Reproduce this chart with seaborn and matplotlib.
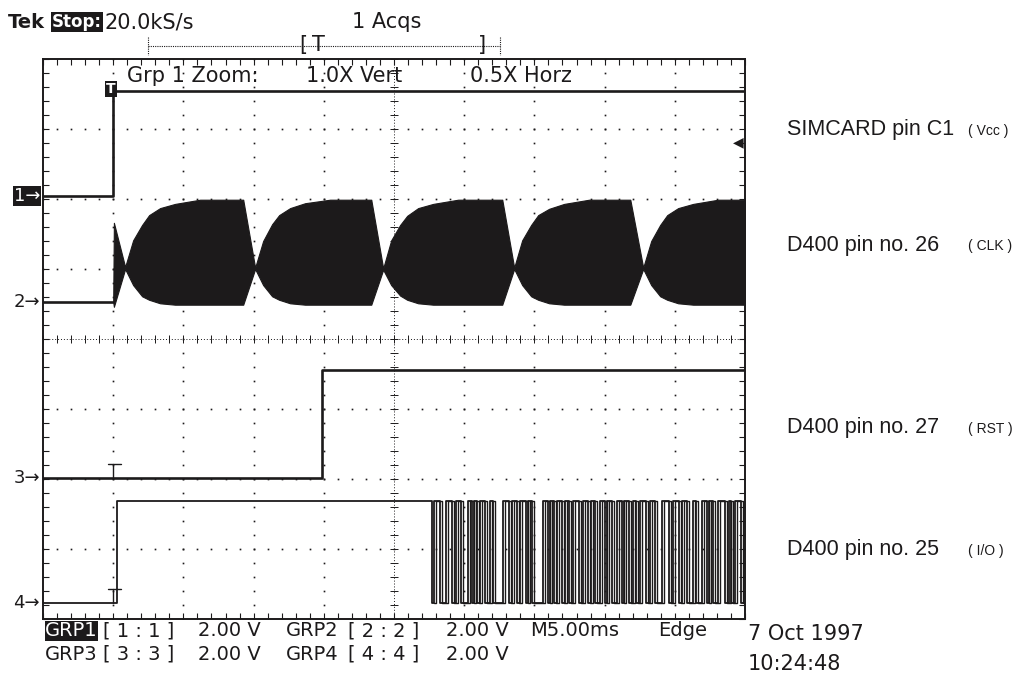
import numpy as np
import pandas as pd
import matplotlib
matplotlib.use("Agg")
import matplotlib.pyplot as plt
import seaborn as sns
from matplotlib.lines import Line2D

# ---------------- data ----------------
# time axis: ms relative to trigger, 5 ms/div ; voltages in V, 2 V/div
T_START, T_END = -5.0, 45.0
VOLTS_PER_DIV = 2.0
# ground marker position of each channel, in divisions from the bottom
GND_DIV = {"1": 6.04, "2": 4.53, "3": 2.01, "4": 0.23}

VCC_T = [-5.0, 0.0, 45.0]
VCC_V = [0.0, 3.0, 3.0]

RST_T = [-5.0, 14.9, 45.0]
RST_V = [0.0, 3.1, 3.1]

CLK_T = [0.00, 0.05, 0.85,
         1.42, 2.06, 2.56, 3.34, 4.41, 6.19, 9.26, 10.11,
         10.68, 11.32, 11.82, 12.60, 13.67, 15.45, 18.38, 19.23,
         19.80, 20.44, 20.94, 21.72, 22.79, 24.57, 27.71, 28.56,
         29.13, 29.77, 30.27, 31.05, 32.12, 33.90, 36.83, 37.75,
         38.32, 38.96, 39.46, 40.24, 41.31, 43.09, 45.00]
CLK_UPPER = [0.00, 2.26, 1.00,
             1.76, 2.20, 2.48, 2.68, 2.80, 2.92, 2.92, 0.98,
             1.74, 2.22, 2.48, 2.68, 2.82, 2.92, 2.92, 0.96,
             1.76, 2.20, 2.46, 2.68, 2.80, 2.92, 2.92, 0.98,
             1.76, 2.20, 2.48, 2.66, 2.80, 2.92, 2.92, 0.98,
             1.74, 2.20, 2.48, 2.68, 2.80, 2.92, 2.92]
CLK_LOWER = [0.00, -0.14, 0.94,
             0.48, 0.16, 0.06, -0.04, -0.08, -0.08, -0.08, 0.94,
             0.48, 0.16, 0.06, -0.04, -0.08, -0.08, -0.08, 0.92,
             0.48, 0.18, 0.06, -0.04, -0.08, -0.08, -0.08, 0.94,
             0.48, 0.16, 0.06, -0.04, -0.08, -0.08, -0.08, 0.94,
             0.48, 0.16, 0.06, -0.04, -0.08, -0.08, -0.08]

IO_HIGH_V = 2.9
# edges of the I/O line (toggle times), the line starts low
IO_EDGES = [0.25, 22.72, 22.87, 23.29, 23.72, 24.15, 24.43, 24.79, 25.29, 25.57,
            25.71, 25.93, 26.14, 26.50, 26.85, 27.07, 27.78, 28.21, 28.42, 28.78,
            28.99, 29.42, 29.56, 29.85, 30.63, 30.99, 31.13, 31.41, 31.63, 31.98,
            32.20, 32.48, 32.77, 33.19, 33.48, 33.83, 34.05, 34.33, 34.69, 35.05,
            35.19, 35.54, 35.90, 36.26, 36.40, 36.75, 37.04, 37.25, 37.54, 37.97,
            38.25, 38.61, 39.10, 39.60, 39.89, 40.32, 40.53, 40.89, 41.31, 41.53,
            41.95, 42.31, 42.45, 42.74, 43.09, 43.59, 43.88, 44.02, 44.30, 44.73]

TRIG_LEVEL_DIV = 6.81

RIGHT_LABELS = ["SIMCARD pin C1", "D400 pin no. 26", "D400 pin no. 27", "D400 pin no. 25"]
RIGHT_TAGS = ["( Vcc )", "( CLK )", "( RST )", "( I/O )"]

STATUS_ROW1 = ["[ 1 : 1 ]", "2.00 V", "GRP2", "[ 2 : 2 ]", "2.00 V", "M5.00ms", "Edge"]
STATUS_ROW2 = ["GRP3", "[ 3 : 3 ]", "2.00 V", "GRP4", "[ 4 : 4 ]", "2.00 V"]

# ---------------- figure ----------------
sns.set_style("white")
plt.rcParams["font.family"] = ["DejaVu Sans"]
W, H = 1029, 675
fig = plt.figure(figsize=(W / 100, H / 100), dpi=100)
ax = fig.add_axes([43 / W, 1 - 619 / H, 702 / W, 560 / H])
ax.set_xlim(T_START, T_END)
ax.set_ylim(0, 8)


def to_div(ch, volts):
    return GND_DIV[ch] + np.asarray(volts, dtype=float) / VOLTS_PER_DIV


INK = "#1c1a1b"

# graticule: dotted major lines
minor_x = np.arange(T_START, T_END + 0.01, 1.0)
minor_y = np.arange(0, 8.01, 0.2)
for k in range(1, 10):
    xv = T_START + 5 * k
    if k == 5:
        continue
    ax.plot(np.full_like(minor_y, xv), minor_y, ls="none", marker="s", ms=1.2, color=INK, mew=0)
for j in range(1, 8):
    if j == 4:
        continue
    ax.plot(minor_x, np.full_like(minor_x, j), ls="none", marker="s", ms=1.2, color=INK, mew=0)
# center cross lines
xc = (T_START + T_END) / 2
ax.plot([T_START, T_END], [4, 4], ls=(0, (1, 2)), lw=0.7, color=INK)
ax.plot(minor_x, np.full_like(minor_x, 4), ls="none", marker="|", ms=6, mew=0.7, color=INK)
ax.plot([xc, xc], [0, 8], ls=(0, (1, 2)), lw=0.7, color=INK)
ax.plot(np.full_like(minor_y, xc), minor_y, ls="none", marker="_", ms=6, mew=0.7, color=INK)

# frame ticks
ax.set_xticks(np.arange(T_START, T_END + 0.01, 5.0))
ax.set_xticks(minor_x, minor=True)
ax.set_yticks(np.arange(0, 8.01, 1.0))
ax.set_yticks(minor_y, minor=True)
ax.tick_params(which="both", direction="in", length=4, width=0.8, color=INK,
               top=True, right=True, bottom=True, left=True,
               labelbottom=False, labelleft=False)
for s in ax.spines.values():
    s.set_linewidth(1.4)
    s.set_color(INK)

# ---- traces ----
vcc = pd.DataFrame({"t": VCC_T, "y": to_div("1", VCC_V)})
sns.lineplot(data=vcc, x="t", y="y", drawstyle="steps-post", estimator=None,
             color=INK, lw=1.9, ax=ax)

rst = pd.DataFrame({"t": RST_T, "y": to_div("3", RST_V)})
sns.lineplot(data=rst, x="t", y="y", drawstyle="steps-post", estimator=None,
             color=INK, lw=1.9, ax=ax)

io_t = [T_START] + IO_EDGES + [T_END]
io_v = [0.0] + [IO_HIGH_V if i % 2 == 0 else 0.0 for i in range(len(IO_EDGES))]
io_v = io_v + [io_v[-1]]
io = pd.DataFrame({"t": io_t, "y": to_div("4", io_v)})
sns.lineplot(data=io, x="t", y="y", drawstyle="steps-post", estimator=None,
             color=INK, lw=1.3, ax=ax, sort=False)
# the scope draws each edge of the burst as a doubled stroke
io_burst = io[io["t"] > 20].copy()
io_burst["t"] = io_burst["t"] + 0.14
io_burst = io_burst[io_burst["t"] < T_END]
sns.lineplot(data=io_burst, x="t", y="y", drawstyle="steps-post", estimator=None,
             color=INK, lw=1.0, ax=ax, sort=False)

# CLK: pre-trigger ground then dense envelope
clk_pre = pd.DataFrame({"t": [T_START, 0.0], "y": to_div("2", [0.0, 0.0])})
sns.lineplot(data=clk_pre, x="t", y="y", estimator=None, color=INK, lw=1.9, ax=ax)
ax.fill_between(CLK_T, to_div("2", CLK_LOWER), to_div("2", CLK_UPPER),
                color=INK, lw=0.8, edgecolor=INK)

# trigger "T" markers on channels 3 and 4
for ch in ("3", "4"):
    g = GND_DIV[ch]
    ax.plot([0, 0], [g, g + 0.2], color=INK, lw=1.0)
    ax.plot([-0.35, 0.55], [g + 0.2, g + 0.2], color=INK, lw=1.0)
ax.text(-0.15, 7.57, "T", ha="center", va="center", color="white", fontsize=10,
        fontweight="bold", bbox=dict(facecolor=INK, edgecolor="none", pad=1.0))
ax.text(T_END - 0.1, TRIG_LEVEL_DIV, "\u25C0", ha="right", va="center", fontsize=10, color=INK)

# channel ground markers (outside the left edge)
for ch, g in GND_DIV.items():
    sel = ch == "1"
    ax.annotate(ch + "\u2192", xy=(0, g), xycoords=("axes fraction", "data"),
                xytext=(-3, 0), textcoords="offset pixels", ha="right", va="center",
                fontsize=13, color="white" if sel else INK,
                bbox=dict(facecolor=INK, edgecolor="none", pad=0.6) if sel else None)

ax.set_xlabel("")
ax.set_ylabel("")


# ---- text around the display ----
def ftext(x, y, s, **kw):
    kw.setdefault("va", "center")
    kw.setdefault("ha", "left")
    kw.setdefault("color", INK)
    fig.text(x / W, 1 - y / H, s, **kw)


SCOPE = dict(fontsize=15)
STATUS = dict(fontsize=14)
ftext(8, 22, "Tek", fontsize=14, fontweight="bold")
ftext(52, 22, "Stop:", color="white", fontsize=12, fontweight="bold",
      bbox=dict(facecolor=INK, edgecolor="none", pad=0.8))
ftext(105, 22, "20.0kS/s", **SCOPE)
ftext(352, 22, "1 Acqs", **SCOPE)

# record view bracket
fig.add_artist(Line2D([148 / W, 500 / W], [1 - 46 / H] * 2, ls=(0, (1, 1)), lw=0.8, color=INK))
fig.add_artist(Line2D([148 / W] * 2, [1 - 37 / H, 1 - 55 / H], ls=(0, (1, 1)), lw=0.8, color=INK))
fig.add_artist(Line2D([500 / W] * 2, [1 - 37 / H, 1 - 55 / H], ls=(0, (1, 1)), lw=0.8, color=INK))
ftext(299, 45, "[", **SCOPE)
ftext(312, 45, "T", **SCOPE)
ftext(478, 45, "]", **SCOPE)

ftext(127, 76, "Grp 1 Zoom:", **SCOPE)
ftext(306, 76, "1.0X Vert", **SCOPE)
ftext(470, 76, "0.5X Horz", **SCOPE)

# bottom status lines
ftext(45, 631, "GRP1", color="white", bbox=dict(facecolor=INK, edgecolor="none", pad=0.3), **STATUS)
for s, x in zip(STATUS_ROW1, [103, 198, 286, 348, 446, 530, 658]):
    ftext(x, 631, s, **STATUS)
for s, x in zip(STATUS_ROW2, [45, 103, 198, 286, 348, 446]):
    ftext(x, 654, s, **STATUS)
ftext(748, 634, "7 Oct 1997", **SCOPE)
ftext(748, 664, "10:24:48", **SCOPE)

# right-hand channel descriptions
LBL_Y = [130, 245, 428, 550]
for lab, tag, y in zip(RIGHT_LABELS, RIGHT_TAGS, LBL_Y):
    ftext(787, y, lab, fontsize=15.5, family=["Liberation Sans", "DejaVu Sans"])
    ftext(968, y + 1, tag, fontsize=10, family=["Liberation Sans", "DejaVu Sans"])

fig.savefig("out.png", dpi=100, facecolor="white")
